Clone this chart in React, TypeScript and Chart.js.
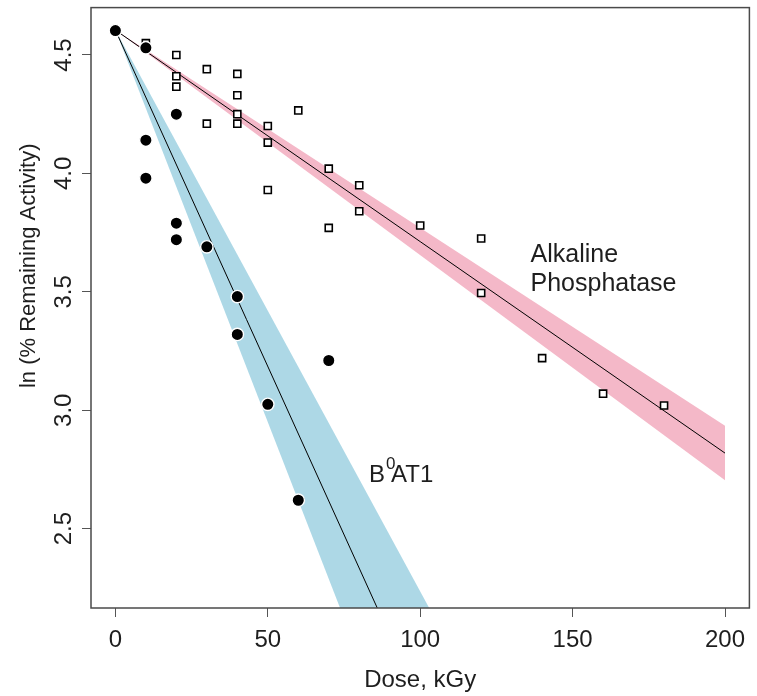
import React, { useEffect, useRef } from "react";
import { Chart, registerables } from "chart.js";

Chart.register(...registerables);

// B0AT1 (filled circles)
const bAtDose = [0, 10, 10, 10, 20, 20, 20, 30, 40, 40, 50, 60, 70];
const bAtLnActivity = [4.603, 4.53, 4.14, 3.98, 4.25, 3.79, 3.72, 3.69, 3.48, 3.32, 3.025, 2.62, 3.21];

// Alkaline phosphatase (open squares)
const apDose = [10, 20, 20, 20, 30, 30, 40, 40, 40, 40, 50, 50, 50, 60, 70, 70, 80, 80, 100, 120, 120, 140, 160, 180];
const apLnActivity = [4.55, 4.5, 4.41, 4.366, 4.44, 4.21, 4.42, 4.33, 4.25, 4.21, 4.2, 4.13, 3.93, 4.266, 4.02, 3.77, 3.95, 3.84, 3.78, 3.725, 3.495, 3.22, 3.07, 3.02];

// Fits through ln(100), with slope confidence bands
const fitIntercept = 4.605;
const bAtSlope = -0.0284;
const bAtSlopeCI = 0.0047;
const bAtFitDose = [0, 120];
const apSlope = -0.00893;
const apSlopeCI = 0.000575;
const apFitDose = [0, 200];

const xTicks = [0, 50, 100, 150, 200];
const yTicks = [2.5, 3.0, 3.5, 4.0, 4.5];
const xTickLabels = ["0", "50", "100", "150", "200"];
const yTickLabels = ["2.5", "3.0", "3.5", "4.0", "4.5"];

const FONT = "'Liberation Sans', Arial, sans-serif";
const TEXT = "#1e1e1e";

const line = (xs: number[], slope: number) => xs.map((x) => ({ x, y: fitIntercept + slope * x }));

const decorPlugin = {
  id: "decor",
  afterDraw(chart: any) {
    const { ctx, chartArea: a, scales } = chart;
    const xs = scales.x;
    const ys = scales.y;
    ctx.save();
    // frame
    ctx.strokeStyle = "#4a4a4a";
    ctx.lineWidth = 1.5;
    ctx.strokeRect(a.left, a.top, a.right - a.left, a.bottom - a.top);
    ctx.fillStyle = TEXT;
    ctx.font = `24px ${FONT}`;
    // x tick labels
    ctx.textAlign = "center";
    ctx.textBaseline = "alphabetic";
    xTicks.forEach((v, i) => {
      ctx.fillText(xTickLabels[i], xs.getPixelForValue(v), 647);
    });
    // y tick labels (rotated)
    yTicks.forEach((v, i) => {
      ctx.save();
      ctx.translate(71, ys.getPixelForValue(v));
      ctx.rotate(-Math.PI / 2);
      ctx.fillText(yTickLabels[i], 0, 0);
      ctx.restore();
    });
    // axis titles
    ctx.fillText("Dose, kGy", (a.left + a.right) / 2, 687);
    ctx.save();
    ctx.translate(35, ys.getPixelForValue(3.61));
    ctx.rotate(-Math.PI / 2);
    ctx.font = `22px ${FONT}`;
    ctx.fillText("ln (% Remaining Activity)", 0, 0);
    ctx.restore();
    // annotations
    ctx.textAlign = "left";
    ctx.font = `25px ${FONT}`;
    const apx = xs.getPixelForValue(136.2);
    ctx.fillText("Alkaline", apx, ys.getPixelForValue(3.626));
    ctx.fillText("Phosphatase", apx, ys.getPixelForValue(3.503));
    const bx = xs.getPixelForValue(83.2);
    const by = ys.getPixelForValue(2.697);
    ctx.font = `24px ${FONT}`;
    ctx.fillText("B", bx, by);
    const bw = ctx.measureText("B").width;
    ctx.fillText("AT1", bx + bw + 6, by);
    ctx.font = `17px ${FONT}`;
    ctx.fillText("0", bx + bw + 1, by - 13);
    ctx.restore();
  },
};

export default function App() {
  const ref = useRef<HTMLCanvasElement>(null);
  useEffect(() => {
    if (!ref.current) return;
    const chart = new Chart(ref.current, {
      type: "scatter",
      data: {
        datasets: [
          {
            label: "B0AT1",
            data: bAtDose.map((x, i) => ({ x, y: bAtLnActivity[i] })),
            pointStyle: "circle",
            pointRadius: 6.2,
            pointBackgroundColor: "#000",
            pointBorderColor: "#fff",
            pointBorderWidth: 1.4,
            order: 0,
          },
          {
            label: "Alkaline Phosphatase",
            data: apDose.map((x, i) => ({ x, y: apLnActivity[i] })),
            pointStyle: "rect",
            pointRadius: 5,
            pointBackgroundColor: "#fff",
            pointBorderColor: "#000",
            pointBorderWidth: 1.6,
            order: 1,
          },
          {
            label: "B0AT1 fit",
            data: line(bAtFitDose, bAtSlope),
            showLine: true,
            pointRadius: 0,
            borderColor: "#000",
            borderWidth: 1,
            order: 2,
          },
          {
            label: "AP fit",
            data: line(apFitDose, apSlope),
            showLine: true,
            pointRadius: 0,
            borderColor: "#000",
            borderWidth: 1,
            order: 3,
          },
          {
            label: "B0AT1 upper",
            data: line(bAtFitDose, bAtSlope + bAtSlopeCI),
            showLine: true,
            pointRadius: 0,
            borderWidth: 0,
            borderColor: "rgba(0,0,0,0)",
            order: 4,
          },
          {
            label: "B0AT1 lower",
            data: line(bAtFitDose, bAtSlope - bAtSlopeCI),
            showLine: true,
            pointRadius: 0,
            borderWidth: 0,
            borderColor: "rgba(0,0,0,0)",
            backgroundColor: "#ADD8E6",
            fill: 4,
            order: 5,
          },
          {
            label: "AP upper",
            data: line(apFitDose, apSlope + apSlopeCI),
            showLine: true,
            pointRadius: 0,
            borderWidth: 0,
            borderColor: "rgba(0,0,0,0)",
            order: 6,
          },
          {
            label: "AP lower",
            data: line(apFitDose, apSlope - apSlopeCI),
            showLine: true,
            pointRadius: 0,
            borderWidth: 0,
            borderColor: "rgba(0,0,0,0)",
            backgroundColor: "#F4B8C8",
            fill: 6,
            order: 7,
          },
        ] as any,
      },
      options: {
        responsive: false,
        animation: false,
        devicePixelRatio: 1,
        layout: { padding: { top: 7, right: 6, left: 0, bottom: 0 } },
        plugins: { legend: { display: false }, tooltip: { enabled: false } },
        scales: {
          x: {
            type: "linear",
            min: -8,
            max: 208,
            afterBuildTicks: (s: any) => {
              s.ticks = xTicks.map((value) => ({ value }));
            },
            afterFit: (s: any) => {
              s.height = 88;
            },
            ticks: { display: false },
            border: { display: false },
            grid: { drawOnChartArea: false, drawTicks: true, tickLength: 9, color: "#555", lineWidth: 1 },
          },
          y: {
            type: "linear",
            min: 2.165,
            max: 4.7,
            afterBuildTicks: (s: any) => {
              s.ticks = yTicks.map((value) => ({ value }));
            },
            afterFit: (s: any) => {
              s.width = 91;
            },
            ticks: { display: false },
            border: { display: false },
            grid: { drawOnChartArea: false, drawTicks: true, tickLength: 9, color: "#555", lineWidth: 1 },
          },
        },
      } as any,
      plugins: [decorPlugin],
    });
    return () => chart.destroy();
  }, []);
  return (
    <div style={{ position: "fixed", left: 0, top: 0, width: 757, height: 696, background: "#fff" }}>
      <canvas ref={ref} width={757} height={696} style={{ display: "block" }} />
    </div>
  );
}
